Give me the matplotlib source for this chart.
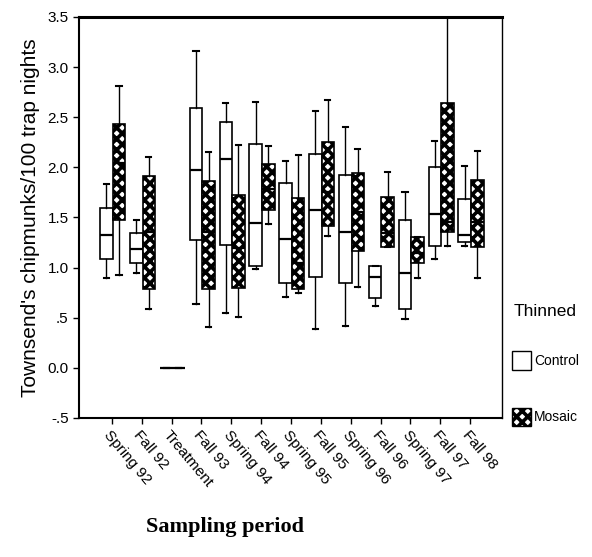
import matplotlib
matplotlib.use('Agg')
import matplotlib.pyplot as plt
from matplotlib.patches import Patch

periods = ['Spring 92', 'Fall 92', 'Treatment', 'Fall 93', 'Spring 94', 'Fall 94',
           'Spring 95', 'Fall 95', 'Spring 96', 'Fall 96', 'Spring 97', 'Fall 97', 'Fall 98']

# control (unthinned) plots
ctrl_lo = [0.90, 0.95, 0.0, 0.64, 0.545, 0.985, 0.71, 0.39, 0.42, 0.62, 0.49, 1.09, 1.22]
ctrl_q1 = [1.09, 1.05, 0.0, 1.28, 1.23, 1.02, 0.85, 0.905, 0.845, 0.70, 0.585, 1.22, 1.26]
ctrl_med = [1.33, 1.19, 0.0, 1.975, 2.085, 1.44, 1.29, 1.57, 1.36, 0.91, 0.945, 1.53, 1.33]
ctrl_q3 = [1.59, 1.35, 0.0, 2.59, 2.45, 2.235, 1.84, 2.13, 1.92, 1.02, 1.47, 2.00, 1.68]
ctrl_hi = [1.83, 1.47, 0.0, 3.165, 2.64, 2.65, 2.06, 2.56, 2.40, 1.02, 1.75, 2.26, 2.01]

# mosaic thinned plots
mos_lo = [0.93, 0.59, 0.0, 0.41, 0.51, 1.43, 0.75, 1.32, 0.805, 1.21, 0.895, 1.22, 0.895]
mos_q1 = [1.47, 0.785, 0.0, 0.785, 0.80, 1.57, 0.785, 1.42, 1.17, 1.21, 1.045, 1.36, 1.21]
mos_med = [2.04, 1.36, 0.0, 1.36, 1.20, 1.78, 1.05, 1.75, 1.55, 1.35, 1.15, 1.45, 1.45]
mos_q3 = [2.43, 1.91, 0.0, 1.865, 1.725, 2.03, 1.69, 2.25, 1.94, 1.70, 1.31, 2.64, 1.875]
mos_hi = [2.81, 2.10, 0.0, 2.15, 2.22, 2.21, 2.12, 2.67, 2.18, 1.95, 1.31, 3.5, 2.165]

ytick_vals = [-0.5, 0.0, 0.5, 1.0, 1.5, 2.0, 2.5, 3.0, 3.5]
ytick_labels = ['-.5', '0.0', '.5', '1.0', '1.5', '2.0', '2.5', '3.0', '3.5']


def make_stats(lo, q1, med, q3, hi):
    return [dict(whislo=a, q1=b, med=c, q3=d, whishi=e, fliers=[])
            for a, b, c, d, e in zip(lo, q1, med, q3, hi)]


plt.rcParams['font.family'] = ['Liberation Sans', 'DejaVu Sans']
plt.rcParams['hatch.linewidth'] = 2.6

fig = plt.figure(figsize=(5.92, 5.57), dpi=100)
ax = fig.add_axes([0.1334, 0.2496, 0.7146, 0.7199])

xs = list(range(len(periods)))
w = 0.42
common = dict(widths=w, patch_artist=True, showfliers=False,
              whiskerprops=dict(color='black', linewidth=1.0),
              capprops=dict(color='black', linewidth=1.5),
              medianprops=dict(color='black', linewidth=1.6),
              capwidths=0.17)

ctrl = ax.bxp(make_stats(ctrl_lo, ctrl_q1, ctrl_med, ctrl_q3, ctrl_hi),
              positions=[x - 0.18 for x in xs],
              boxprops=dict(facecolor='white', edgecolor='black', linewidth=1.2),
              **common)
mos = ax.bxp(make_stats(mos_lo, mos_q1, mos_med, mos_q3, mos_hi),
             positions=[x + 0.24 for x in xs],
             boxprops=dict(facecolor='white', edgecolor='black', linewidth=1.2, hatch='xxx'),
             **common)

ax.set_xlim(-1.1, 13.07)
ax.set_ylim(-0.5, 3.5)
ax.set_xticks(xs)
ax.set_xticklabels(periods, rotation=-50, ha='left', va='top', rotation_mode='anchor',
                   fontsize=11)
ax.set_yticks(ytick_vals)
ax.set_yticklabels(ytick_labels, fontsize=11)
ax.tick_params(axis='both', direction='out', length=4, width=1, color='black')
ax.tick_params(axis='x', pad=3)

for side in ['left', 'bottom']:
    ax.spines[side].set_linewidth(1.5)
ax.spines['top'].set_linewidth(2.2)
ax.spines['right'].set_linewidth(1.0)

ax.set_ylabel("Townsend's chipmunks/100 trap nights", fontsize=15, labelpad=5)
fig.text(0.38, 0.053, 'Sampling period', fontsize=16, fontweight='bold',
         family='Liberation Serif', ha='center', va='center')

fig.text(0.92, 0.44, 'Thinned', fontsize=12.5, ha='center', va='center')
handles = [Patch(facecolor='white', edgecolor='black', linewidth=1.0),
           Patch(facecolor='white', edgecolor='black', linewidth=1.0, hatch='xxx')]
fig.legend(handles, ['Control', 'Mosaic'], loc='center left',
           bbox_to_anchor=(0.855, 0.302), frameon=False, fontsize=10,
           labelspacing=2.7, handlelength=1.4, handleheight=1.7, handletextpad=0.2,
           borderaxespad=0)

fig.savefig('out.png', dpi=100)
